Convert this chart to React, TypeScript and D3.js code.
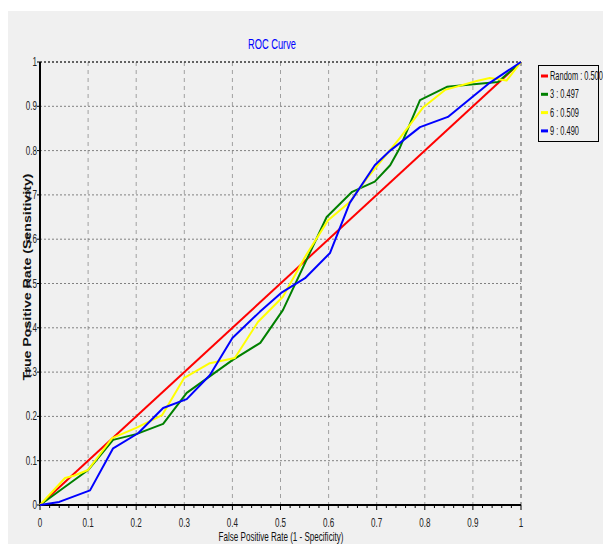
import React, { useEffect, useRef } from 'react';
import * as d3 from 'd3';

type Pt = [number, number];

const randomCurve: Pt[] = [[0, 0], [1, 1]];

const curve3: Pt[] = [
  [0, 0], [0.1, 0.079], [0.152, 0.147], [0.2, 0.16], [0.256, 0.183], [0.305, 0.253],
  [0.4, 0.327], [0.458, 0.366], [0.505, 0.44], [0.596, 0.65], [0.649, 0.707],
  [0.696, 0.73], [0.728, 0.767], [0.748, 0.806], [0.79, 0.914], [0.846, 0.944],
  [0.952, 0.955], [1, 1]
];

const curve6: Pt[] = [
  [0, 0], [0.052, 0.061], [0.07, 0.066], [0.1, 0.079], [0.15, 0.151], [0.2, 0.174],
  [0.254, 0.203], [0.3, 0.287], [0.353, 0.32], [0.405, 0.332], [0.453, 0.413],
  [0.505, 0.47], [0.551, 0.56], [0.599, 0.643], [0.644, 0.684], [0.68, 0.738],
  [0.748, 0.828], [0.797, 0.898], [0.842, 0.937], [0.908, 0.957], [0.935, 0.964],
  [0.97, 0.958], [1, 1]
];

const curve9: Pt[] = [
  [0, 0], [0.04, 0.007], [0.104, 0.033], [0.152, 0.128], [0.204, 0.162],
  [0.256, 0.219], [0.305, 0.239], [0.353, 0.293], [0.4, 0.377], [0.457, 0.436],
  [0.503, 0.48], [0.551, 0.512], [0.603, 0.569], [0.644, 0.682], [0.696, 0.767],
  [0.728, 0.8], [0.79, 0.853], [0.848, 0.876], [0.935, 0.953], [1, 1]
];

const seriesNames = ['Random : 0.500', '3 : 0.497', '6 : 0.509', '9 : 0.490'];
const seriesColors = ['#ff0000', '#008000', '#ffff00', '#0000ff'];
const seriesData = [randomCurve, curve3, curve6, curve9];
const tickValues = [0, 0.1, 0.2, 0.3, 0.4, 0.5, 0.6, 0.7, 0.8, 0.9, 1];

const FONT = '"Liberation Sans", Arial, sans-serif';
const SQUEEZE = 0.62; // the original uses a condensed font

const App: React.FC = () => {
  const svgRef = useRef<SVGSVGElement>(null);

  useEffect(() => {
    if (!svgRef.current) return;
    const svg = d3.select(svgRef.current);
    svg.selectAll('*').remove();

    const left = 40, right = 521, top = 62, bottom = 505;

    // panel background
    svg.append('rect')
      .attr('x', 8).attr('y', 11)
      .attr('width', 603 - 8).attr('height', 544 - 11)
      .attr('fill', '#f0f0f0');

    const x = d3.scaleLinear().domain([0, 1]).range([left, right]);
    const y = d3.scaleLinear().domain([0, 1]).range([bottom, top]);

    // condensed text helper
    const narrow = (g: d3.Selection<any, any, any, any>, tx: number, ty: number, size: number, anchor: string, txt: string, fill = '#222') =>
      g.append('text')
        .attr('transform', `translate(${tx},${ty}) scale(${SQUEEZE},1)`)
        .attr('text-anchor', anchor)
        .style('font-family', FONT).style('font-size', `${size}px`).style('fill', fill)
        .text(txt);

    // vertical dashed grid
    svg.append('g').selectAll('line')
      .data(tickValues.slice(1))
      .enter().append('line')
      .attr('x1', d => x(d)).attr('x2', d => x(d))
      .attr('y1', top).attr('y2', bottom)
      .attr('stroke', d => d === 1 ? '#555' : '#a0a0a0')
      .attr('stroke-width', 1)
      .attr('stroke-dasharray', '4,4');

    // horizontal dotted grid
    svg.append('g').selectAll('line')
      .data(tickValues.slice(1))
      .enter().append('line')
      .attr('x1', left).attr('x2', right)
      .attr('y1', d => y(d)).attr('y2', d => y(d))
      .attr('stroke', d => d === 1 ? '#333' : '#808080')
      .attr('stroke-width', d => d === 1 ? 1.5 : 1)
      .attr('stroke-dasharray', '2,2');

    // minor ticks on x axis
    const minor = d3.range(0, 51).map(i => i / 50);
    svg.append('g').selectAll('line')
      .data(minor)
      .enter().append('line')
      .attr('x1', d => x(d)).attr('x2', d => x(d))
      .attr('y1', bottom).attr('y2', d => bottom + (Math.round(d * 50) % 5 === 0 ? 5 : 3))
      .attr('stroke', '#000').attr('stroke-width', 1);

    // y ticks
    svg.append('g').selectAll('line')
      .data(tickValues)
      .enter().append('line')
      .attr('x1', left - 3).attr('x2', left)
      .attr('y1', d => y(d)).attr('y2', d => y(d))
      .attr('stroke', '#000');

    // axis lines
    svg.append('line')
      .attr('x1', left).attr('x2', left).attr('y1', top).attr('y2', bottom + 1)
      .attr('stroke', '#000').attr('stroke-width', 2);
    svg.append('line')
      .attr('x1', left - 1).attr('x2', right).attr('y1', bottom).attr('y2', bottom)
      .attr('stroke', '#000').attr('stroke-width', 2);

    const fmt = (d: number) => (d === 0 ? '0' : d === 1 ? '1' : d3.format('.1f')(d));

    // tick labels
    const xt = svg.append('g');
    tickValues.forEach(d => narrow(xt, x(d), bottom + 22, 13, 'middle', fmt(d)));
    const yt = svg.append('g');
    tickValues.forEach(d => narrow(yt, left - 3, y(d) + 4, 13, 'end', fmt(d)));

    // title
    narrow(svg, 272, 49, 15, 'middle', 'ROC Curve', '#0000ff');

    // axis titles
    narrow(svg, 281, 541, 13, 'middle', 'False Positive Rate (1 - Specificity)', '#111');

    svg.append('text')
      .attr('transform', `translate(31,${277}) rotate(-90)`)
      .attr('text-anchor', 'middle')
      .attr('textLength', 207)
      .attr('lengthAdjust', 'spacingAndGlyphs')
      .style('font-family', FONT)
      .style('font-size', '10px').style('font-weight', 'bold').style('fill', '#111')
      .text('True Positive Rate (Sensitivity)');

    // curves
    const line = d3.line<Pt>().x(d => x(d[0])).y(d => y(d[1]));
    seriesData.forEach((data, i) => {
      svg.append('path')
        .datum(data)
        .attr('d', line)
        .attr('fill', 'none')
        .attr('stroke', seriesColors[i])
        .attr('stroke-width', 2)
        .attr('stroke-linejoin', 'round');
    });

    // legend
    const legend = svg.append('g').attr('transform', 'translate(538,65)');
    legend.append('rect')
      .attr('x', 0.5).attr('y', 0.5)
      .attr('width', 60).attr('height', 76)
      .attr('fill', '#f0f0f0')
      .attr('stroke', '#000').attr('stroke-width', 1);
    seriesNames.forEach((name, i) => {
      const ly = 11 + i * 18.3;
      legend.append('line')
        .attr('x1', 3).attr('x2', 10).attr('y1', ly).attr('y2', ly)
        .attr('stroke', seriesColors[i]).attr('stroke-width', 3);
      narrow(legend, 12, ly + 4, 12, 'start', name, '#111');
    });
  }, []);

  return (
    <svg
      ref={svgRef}
      width={603}
      height={544}
      style={{ position: 'absolute', left: 0, top: 0, background: '#fff' }}
    />
  );
};

export default App;
